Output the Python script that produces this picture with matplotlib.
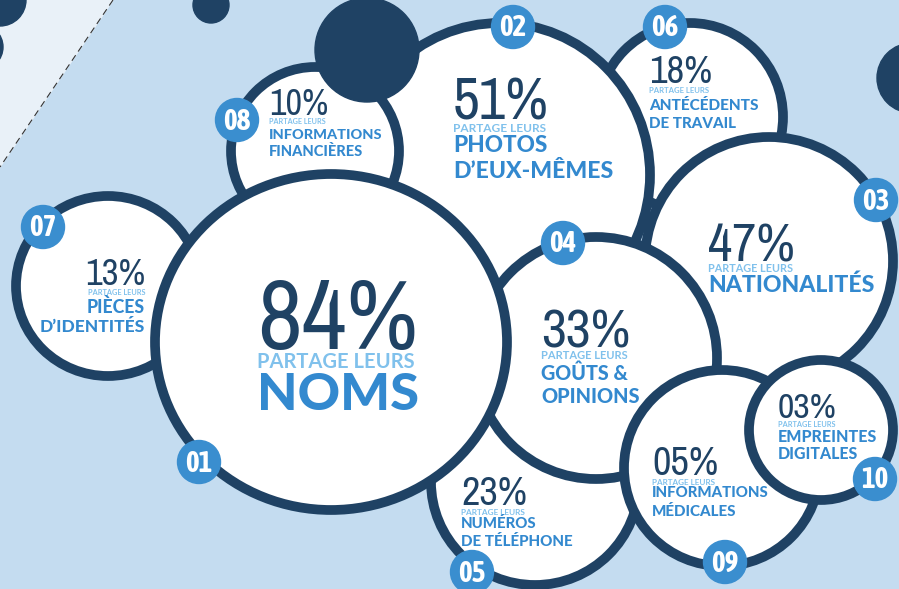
import matplotlib
matplotlib.use('Agg')
import matplotlib.pyplot as plt
from matplotlib import font_manager as fm
from matplotlib.patches import Ellipse, Circle, Polygon

# donnees de l'infographie
badges = ['01', '02', '03', '04', '05', '06', '07', '08', '09', '10']
pct_labels = ['84%', '51%', '47%', '33%', '23%', '18%', '13%', '10%', '05%', '03%']
sub_label = 'PARTAGE LEURS'
categories = [['NOMS'],
              ['PHOTOS', 'D\u2019EUX-MÊMES'],
              ['NATIONALITÉS'],
              ['GOÛTS &', 'OPINIONS'],
              ['NUMÉROS', 'DE TÉLÉPHONE'],
              ['ANTÉCÉDENTS', 'DE TRAVAIL'],
              ['PIÈCES', 'D\u2019IDENTITÉS'],
              ['INFORMATIONS', 'FINANCIÈRES'],
              ['INFORMATIONS', 'MÉDICALES'],
              ['EMPREINTES', 'DIGITALES']]

# mise en page (pixels): bulle (cx, cy, rx, ry), pastille (bx, by)
bubbles = [(331, 342, 176, 168), (500, 175, 150, 152), (769, 261, 124, 124),
           (596, 358, 121, 121), (535, 482, 104, 103), (690, 117, 93, 94),
           (108, 286, 92, 90), (315, 151, 84, 84), (722, 468, 98, 98),
           (821, 430, 72, 70)]
badge_pos = [(199, 462), (513, 27), (876, 200), (563, 243), (472, 572),
             (665, 27), (43, 227), (237, 120), (725, 562), (875, 479)]
# texte: x d'ancrage, alignement, (ligne de base, largeur) pour %, sous-titre, lignes
text_layout = [
    (257, 'left', (349, 158), (368, 158), [(410, 162)]),
    (453, 'left', (120, 94), (132, 93), [(152, 94), (178, 160)]),
    (708, 'left', (262, 85), (272, 85), [(292, 166)]),
    (541, 'left', (347, 88), (359, 87), [(380, 87), (403, 99)]),
    (461, 'left', (505, 65), (515, 65), [(528, 76), (546, 112)]),
    (649, 'left', (83, 62), (93, 61), [(110, 110), (128, 87)]),
    (145, 'right', (285, 59), (295, 58), [(313, 58), (332, 105)]),
    (269, 'left', (115, 58), (124.5, 57), [(139, 113), (156, 94)]),
    (652, 'left', (475, 65), (485, 64), [(497, 117), (516, 85)]),
    (778, 'left', (418, 58), (427, 58), [(442, 99), (459, 80)]),
]
draw_order = [5, 2, 1, 6, 4, 3, 7, 0, 8, 9]

navy = '#1f4264'
blue = '#3a8ecf'
catblue = '#3389cf'
light = '#80c1ec'
bg = '#c4dcf0'


# police etroite pour les chiffres si disponible (droite, pas italique)
def pick_narrow(weight):
    cands = [f for f in fm.fontManager.ttflist
             if ('Condensed' in f.name or 'Narrow' in f.name)
             and f.style == 'normal'
             and 'Mono' not in f.name and 'CJK' not in f.name and 'Serif' not in f.name]
    if not cands:
        return None
    cands.sort(key=lambda f: abs((f.weight if isinstance(f.weight, int) else 400) - weight))
    return fm.FontProperties(fname=cands[0].fname)


num_prop = pick_narrow(400) or fm.FontProperties(family='Roboto')
badge_prop = pick_narrow(700) or fm.FontProperties(family='Roboto', weight='bold')
txt_font = ['Lato', 'DejaVu Sans']

fig = plt.figure(figsize=(8.99, 5.89), dpi=100)
fig.patch.set_facecolor(bg)
ax = fig.add_axes([0, 0, 1, 1])
ax.set_xlim(0, 899)
ax.set_ylim(589, 0)
ax.axis('off')
ax.set_facecolor(bg)
renderer = fig.canvas.get_renderer()


def fit(x, y, s, w, ha='left', scale=1.0, **kw):
    t = ax.text(x, y, s, ha=ha, va='baseline', zorder=20, **kw)
    t.set_fontsize(20)
    bb = t.get_window_extent(renderer)
    t.set_fontsize(20 * w / bb.width * scale)
    return t


# fond: coin clair et ligne pointillee
ax.add_patch(Polygon([(0, 0), (113, 0), (0, 167)], closed=True, color='#e9f1f8', zorder=0))
ax.plot([113, 0], [0, 167], color='#333333', lw=0.8, ls=(0, (6, 4)), zorder=1)

# bulles
for z, i in enumerate(draw_order):
    cx, cy, rx, ry = bubbles[i]
    ax.add_patch(Ellipse((cx, cy), 2 * rx, 2 * ry, facecolor='white', edgecolor=navy,
                         lw=7, zorder=2 + z))

# disques decoratifs fonces
for (cx, cy, r) in [(367, 50, 52), (211, 5, 18), (0, 0, 26), (-20, 47, 23), (912, 78, 35)]:
    ax.add_patch(Circle((cx, cy), r, color=navy, zorder=15))

# textes
for i in range(len(badges)):
    x, ha, pct, sub, lines = text_layout[i]
    fit(x, pct[0], pct_labels[i], pct[1], ha=ha, scale=1.02, color=navy,
        fontproperties=num_prop)
    fit(x, sub[0], sub_label, sub[1], ha=ha, color=light, family=txt_font, fontweight='bold')
    for (yb, w), s in zip(lines, categories[i]):
        fit(x, yb, s, w, ha=ha, color=catblue, family=txt_font, fontweight='black')

    bx, by = badge_pos[i]
    ax.add_patch(Circle((bx, by), 21.5, color=blue, zorder=25))
    bt = ax.text(bx, by + 1, badges[i], ha='center', va='center', color='white',
                 fontproperties=badge_prop, zorder=26)
    bt.set_fontsize(21)

fig.savefig('out.png', dpi=100, facecolor=bg)
